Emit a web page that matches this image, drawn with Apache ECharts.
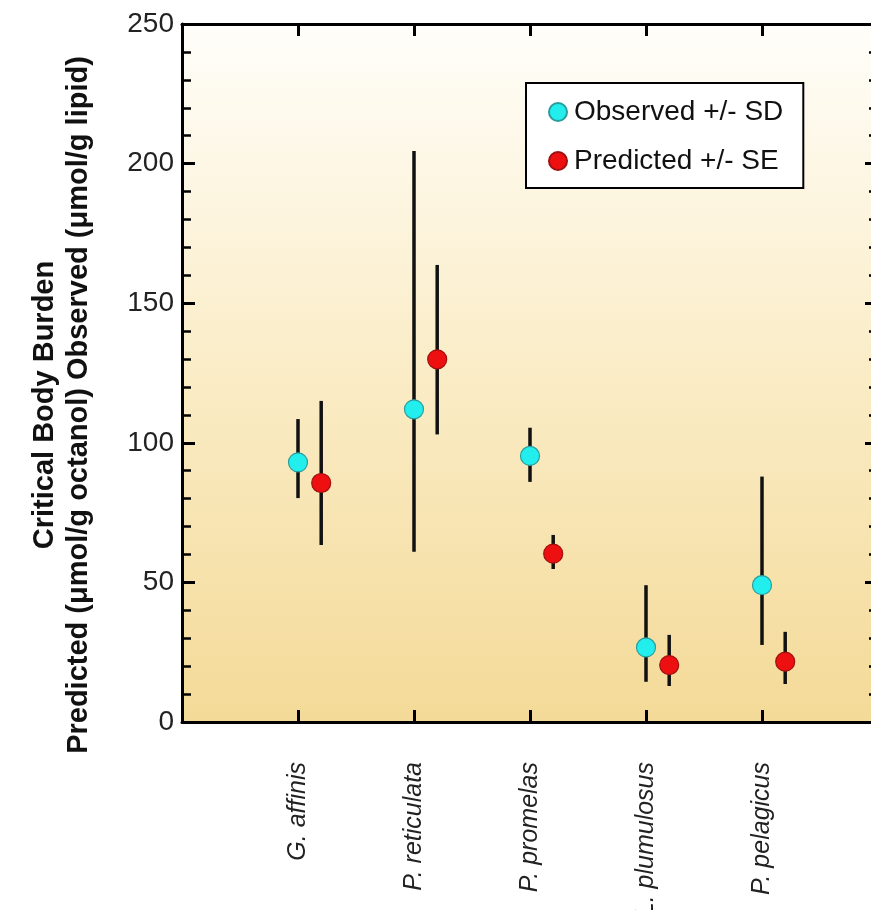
<!DOCTYPE html>
<html>
<head>
<meta charset="utf-8">
<script src="https://cdn.jsdelivr.net/npm/echarts@6/dist/echarts.min.js"></script>
<style>
html,body{margin:0;padding:0;background:#fff;}
#chart{width:871px;height:910px;}
</style>
</head>
<body>
<div id="chart"></div>
<script>
// ---- data ----
const species = ['G. affinis', 'P. reticulata', 'P. promelas', 'L. plumulosus', 'P. pelagicus'];
const obsMean = [93, 112, 95.3, 26.7, 49];
const obsLow  = [80.2, 61, 86, 14.4, 27.6];
const obsHigh = [108.5, 204.5, 105.4, 49, 87.9];
const predMean = [85.6, 129.9, 60.3, 20.4, 21.6];
const predLow  = [63.4, 103, 54.8, 12.9, 13.6];
const predHigh = [115, 163.7, 67, 31.2, 32.3];
const yTicks = [0, 50, 100, 150, 200, 250];

const PRED_OFFSET = 0.2;
const FONT = "'Liberation Sans', Arial, Helvetica, sans-serif";

const obsPts = species.map((s, i) => [i + 1, obsMean[i]]);
const predPts = species.map((s, i) => [i + 1 + PRED_OFFSET, predMean[i]]);
const errData = [];
species.forEach((s, i) => {
  errData.push([i + 1, obsLow[i], obsHigh[i]]);
  errData.push([i + 1 + PRED_OFFSET, predLow[i], predHigh[i]]);
});
const tickPos = species.map((s, i) => i + 1);

const chart = echarts.init(document.getElementById('chart'), null, {renderer: 'canvas'});

function yAxisBase() {
  return {
    type: 'value', min: 0, max: 250, interval: 50,
    axisLine: {show: true, onZero: false, lineStyle: {color: '#000', width: 3}},
    axisTick: {show: true, inside: true, length: 13, lineStyle: {color: '#000', width: 3}},
    minorTick: {show: true, splitNumber: 5, length: 9, lineStyle: {color: '#000', width: 2.5}},
    splitLine: {show: false},
    minorSplitLine: {show: false}
  };
}
function xAxisBase() {
  return {
    type: 'value', min: 0, max: 6, interval: 1,
    axisLine: {show: true, onZero: false, lineStyle: {color: '#000', width: 3}},
    axisTick: {show: true, inside: true, length: 12, lineStyle: {color: '#000', width: 3},
      customValues: tickPos},
    splitLine: {show: false}
  };
}

const option = {
  animation: false,
  backgroundColor: '#ffffff',
  grid: {
    left: 182, top: 24, right: -7, bottom: 188,
    outerBoundsMode: 'none',
    containLabel: false,
    show: true,
    borderWidth: 0,
    backgroundColor: new echarts.graphic.LinearGradient(0, 0, 0, 1, [
      {offset: 0, color: '#fffefa'},
      {offset: 0.5, color: '#faecc6'},
      {offset: 1, color: '#f4da98'}
    ])
  },
  legend: {
    data: ['Observed +/- SD', 'Predicted +/- SE'],
    orient: 'vertical',
    left: 526, top: 83,
    backgroundColor: '#ffffff',
    borderColor: '#000', borderWidth: 2,
    padding: [14, 20, 12, 22],
    itemWidth: 18, itemHeight: 18,
    itemGap: 19,
    icon: 'circle',
    textStyle: {fontFamily: FONT, fontSize: 28, color: '#111', lineHeight: 30, padding: [0, 0, 0, 2]}
  },
  xAxis: [Object.assign(xAxisBase(), {
    position: 'bottom',
    axisLabel: {
      rotate: 90, margin: 40,
      fontFamily: FONT, fontSize: 25, fontStyle: 'italic', color: '#222',
      customValues: tickPos,
      formatter: v => species[Math.round(v) - 1] || ''
    }
  }), Object.assign(xAxisBase(), {
    position: 'top',
    axisLabel: {show: false}
  })],
  yAxis: [Object.assign(yAxisBase(), {
    position: 'left',
    name: 'Critical Body Burden\nPredicted (\u03bcmol/g octanol) Observed (\u03bcmol/g lipid)',
    nameLocation: 'middle',
    nameRotate: 90,
    nameGap: 86,
    nameTextStyle: {fontFamily: FONT, fontSize: 29, fontWeight: 'bold', color: '#111', lineHeight: 34, padding: [0, 64, 0, 0]},
    axisLabel: {
      margin: 8, fontFamily: FONT, fontSize: 28, color: '#222',
      formatter: v => yTicks.indexOf(v) >= 0 ? String(v) : ''
    }
  }), Object.assign(yAxisBase(), {
    position: 'right',
    axisLabel: {show: false}
  })],
  series: [{
    type: 'custom',
    name: 'errorbars',
    xAxisIndex: 0, yAxisIndex: 0,
    data: errData,
    z: 1,
    silent: true,
    renderItem: function (params, api) {
      const lo = api.coord([api.value(0), api.value(1)]);
      const hi = api.coord([api.value(0), api.value(2)]);
      return {
        type: 'line',
        shape: {x1: lo[0], y1: lo[1], x2: hi[0], y2: hi[1]},
        style: {stroke: '#111', lineWidth: 3.5}
      };
    }
  }, {
    type: 'scatter',
    name: 'Observed +/- SD',
    data: obsPts,
    symbol: 'circle',
    symbolSize: 19,
    z: 3,
    itemStyle: {color: '#22eeee', borderColor: '#2a9d9d', borderWidth: 1.2, opacity: 1}
  }, {
    type: 'scatter',
    name: 'Predicted +/- SE',
    data: predPts,
    symbol: 'circle',
    symbolSize: 19,
    z: 3,
    itemStyle: {color: '#ee1010', borderColor: '#a01010', borderWidth: 1.2, opacity: 1}
  }]
};

chart.setOption(option);
</script>
</body>
</html>
